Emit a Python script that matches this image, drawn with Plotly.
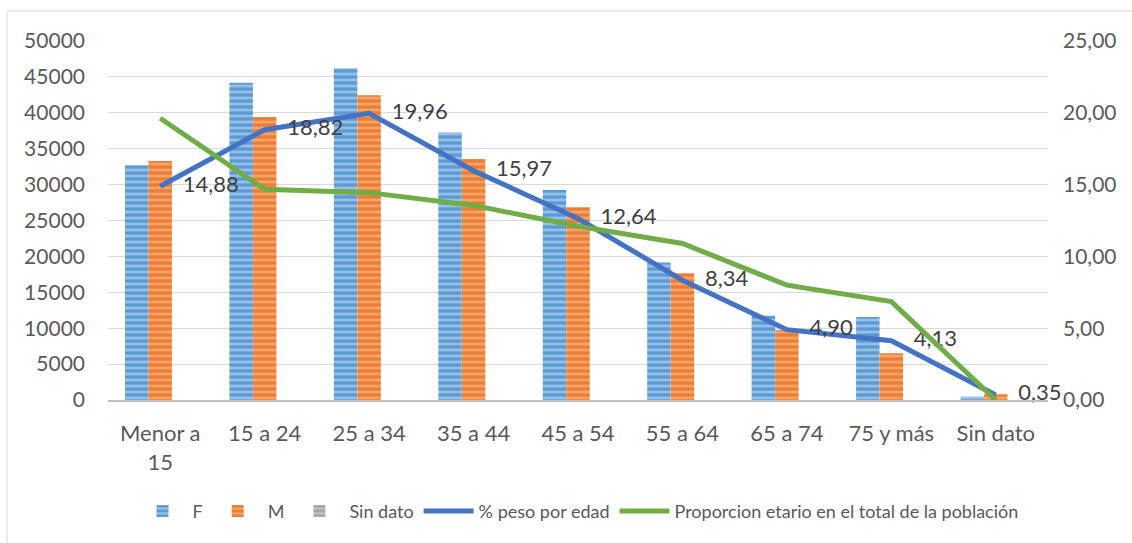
import plotly.graph_objects as go

categories = ["Menor a<br>15", "15 a 24", "25 a 34", "35 a 44", "45 a 54",
              "55 a 64", "65 a 74", "75 y más", "Sin dato"]
f_values = [32700, 44200, 46200, 37250, 29250, 19150, 11750, 11550, 460]
m_values = [33300, 39400, 42450, 33550, 26850, 17650, 9750, 6500, 800]
sd_values = [0, 0, 0, 0, 0, 0, 0, 0, 0]
peso_edad = [14.88, 18.82, 19.96, 15.97, 12.64, 8.34, 4.90, 4.13, 0.35]
proporcion = [19.62, 14.67, 14.44, 13.55, 12.1, 10.9, 8.0, 6.85, 0.0]

FONT = "Lato"
TXT = "#595959"

fig = go.Figure()
fig.add_trace(go.Bar(
    x=categories, y=f_values, name="F",
    marker=dict(color="#5B9BD5", line=dict(width=0),
                pattern=dict(shape="-", fgcolor="#D6E6F5", size=6, solidity=0.45, fillmode="overlay")),
))
fig.add_trace(go.Bar(
    x=categories, y=m_values, name="M",
    marker=dict(color="#ED7D31", line=dict(width=0),
                pattern=dict(shape="-", fgcolor="#F9CBAA", size=6, solidity=0.45, fillmode="overlay")),
))
fig.add_trace(go.Bar(
    x=categories, y=sd_values, name="Sin dato",
    marker=dict(color="#A5A5A5", line=dict(width=0),
                pattern=dict(shape="-", fgcolor="#DBDBDB", size=6, solidity=0.45, fillmode="overlay")),
))
fig.add_trace(go.Scatter(
    x=categories, y=peso_edad, name="% peso por edad", yaxis="y2",
    mode="lines+text", line=dict(color="#4472C4", width=5),
    texttemplate="    %{y:.2f}", textposition="middle right",
    textfont=dict(family=FONT, size=22, color="#404040"),
    cliponaxis=False,
))
fig.add_trace(go.Scatter(
    x=categories, y=proporcion, name="Proporcion etario en el total de la población",
    yaxis="y2", mode="lines", line=dict(color="#70AD47", width=5),
))

fig.update_layout(
    width=1132, height=543,
    margin=dict(l=108, r=84, t=41, b=143),
    paper_bgcolor="white", plot_bgcolor="white",
    separators=",.",
    barmode="group", bargap=0.325, bargroupgap=0,
    font=dict(family=FONT, size=21, color=TXT),
    showlegend=True,
    legend=dict(orientation="h", x=0.5, xanchor="center", y=-0.31, yanchor="middle",
                font=dict(family=FONT, size=18, color=TXT), itemwidth=50,
                traceorder="normal"),
    xaxis=dict(showgrid=False, showline=True, linecolor="#BFBFBF", linewidth=2,
               ticks="", ticklabelstandoff=13, tickfont=dict(size=22, color=TXT)),
    yaxis=dict(range=[0, 50000], dtick=5000, tickformat="d", showgrid=True,
               gridcolor="#D9D9D9", gridwidth=1, zeroline=False, showline=False,
               ticks="", ticklabelstandoff=22, tickfont=dict(size=21, color=TXT)),
    yaxis2=dict(range=[0, 25], dtick=5, tickformat=".2f", overlaying="y", side="right",
                showgrid=False, zeroline=False, showline=False, ticks="",
                ticklabelstandoff=14, tickfont=dict(size=21, color=TXT)),
    shapes=[dict(type="rect", xref="paper", yref="paper",
                 x0=-0.1074, x1=1.3, y0=-1.0, y1=1.0836,
                 line=dict(color="#D9D9D9", width=1), fillcolor="rgba(0,0,0,0)", layer="below")],
)

fig.write_html("out.html")
